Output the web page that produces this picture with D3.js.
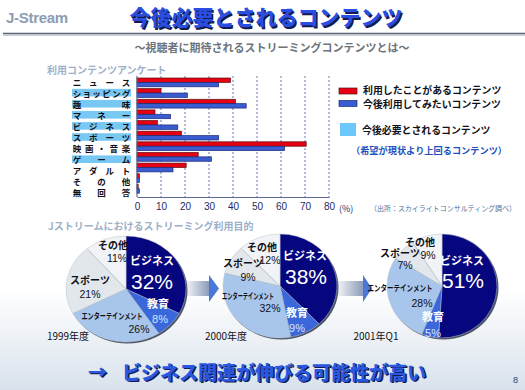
<!DOCTYPE html>
<html>
<head>
<meta charset="utf-8">
<script src="https://cdn.jsdelivr.net/npm/d3@7"></script>
<style>
  body { margin: 0; background: #fff; }
  svg { display: block; }
  text { font-family: "Noto Sans CJK JP", "Liberation Sans", sans-serif; }
</style>
</head>
<body>
<div id="chart"></div>
<script>
// survey bars
var categories = ["ニュース", "ショッピング", "趣味", "マネー", "ビジネス", "スポーツ", "映画・音楽", "ゲーム", "アダルト", "その他", "無回答"];
var highlighted = ["ショッピング", "趣味", "マネー", "ビジネス", "スポーツ", "ゲーム"];
var usedValues = [39, 10, 41, 7.5, 8.5, 18.5, 70.5, 25.5, 20.5, 1, 0.5];
var wantValues = [34, 21, 45.5, 14, 17, 34, 61.5, 31, 15, 1, 1];
var xTicks = [0, 10, 20, 30, 40, 50, 60, 70, 80];

// pies
var pieCategories = ["ビジネス", "教育", "エンターテインメント", "スポーツ", "その他"];
var pieYears = ["1999年度", "2000年度", "2001年Q1"];
var pie1999 = [32, 8, 26, 21, 11];
var pie2000 = [38, 9, 32, 9, 12];
var pie2001 = [51, 5, 28, 7, 9];

var width = 525, height = 390;

var svg = d3.select("#chart").append("svg")
    .attr("width", width)
    .attr("height", height);

var defs = svg.append("defs");
var bg = defs.append("linearGradient").attr("id", "bg")
    .attr("x1", 0).attr("y1", 0).attr("x2", 0).attr("y2", 1);
bg.append("stop").attr("offset", "0%").attr("stop-color", "#ffffff");
bg.append("stop").attr("offset", "100%").attr("stop-color", "#d9e2ec");

var arrowGrad = defs.append("linearGradient").attr("id", "arrowGrad")
    .attr("x1", 0).attr("y1", 0).attr("x2", 1).attr("y2", 0);
arrowGrad.append("stop").attr("offset", "0%").attr("stop-color", "#f4f6f9");
arrowGrad.append("stop").attr("offset", "100%").attr("stop-color", "#8c9cb8");

// background
svg.append("rect").attr("width", width).attr("height", height).attr("fill", "#fff");
svg.append("rect").attr("x", 0).attr("y", 290).attr("width", width).attr("height", 100)
    .attr("fill", "url(#bg)");

// header
svg.append("text")
    .attr("x", 6).attr("y", 17)
    .attr("dominant-baseline", "central")
    .style("font-family", "'Liberation Sans', Arial, sans-serif")
    .style("font-weight", "bold")
    .style("font-size", "15px")
    .style("letter-spacing", "-0.3px")
    .attr("fill", "#8c9cb4")
    .text("J-Stream");

function shadowText(x, y, size, txt, color, shadow, anchor) {
  svg.append("text")
      .attr("x", x + 1.5).attr("y", y + 1.5)
      .attr("text-anchor", anchor || "middle")
      .attr("dominant-baseline", "central")
      .style("font-weight", 900)
      .style("font-size", size + "px")
      .attr("fill", shadow)
      .text(txt);
  svg.append("text")
      .attr("x", x).attr("y", y)
      .attr("text-anchor", anchor || "middle")
      .attr("dominant-baseline", "central")
      .style("font-weight", 900)
      .style("font-size", size + "px")
      .attr("fill", color)
      .text(txt);
}

shadowText(266, 16, 21, "今後必要とされるコンテンツ", "#2a4ee0", "#121a50");

svg.append("line").attr("x1", 3).attr("x2", width).attr("y1", 33.5).attr("y2", 33.5)
    .attr("stroke", "#5a6272").attr("stroke-width", 1.6);
svg.append("line").attr("x1", 3).attr("x2", width).attr("y1", 35.2).attr("y2", 35.2)
    .attr("stroke", "#b4bcc8").attr("stroke-width", 1.2);

svg.append("text")
    .attr("x", 272).attr("y", 47)
    .attr("text-anchor", "middle")
    .attr("dominant-baseline", "central")
    .style("font-weight", "bold")
    .style("font-size", "11px")
    .attr("fill", "#6c747e")
    .text("～視聴者に期待されるストリーミングコンテンツとは～");

svg.append("text")
    .attr("x", 47).attr("y", 69)
    .attr("dominant-baseline", "central")
    .style("font-weight", "bold")
    .style("font-size", "10px")
    .attr("fill", "#9eb0c8")
    .text("利用コンテンツアンケート");

// bar chart
var x = d3.scaleLinear().domain([0, 80]).range([137, 329]);
var y = d3.scaleBand().domain(categories).range([77, 194]);
var sub = d3.scaleBand().domain(["used", "want"]).range([1, 9.8]);
var yLabel = d3.scaleBand().domain(categories).range([76, 198]);

var bars = svg.append("g");

bars.selectAll(".grid")
    .data(xTicks.slice(1))
    .enter().append("line")
    .attr("x1", function(d) { return x(d); })
    .attr("x2", function(d) { return x(d); })
    .attr("y1", 76).attr("y2", 197)
    .attr("stroke", "#3c5aa0")
    .attr("stroke-width", 0.8)
    .attr("stroke-dasharray", "2,2");

// label highlight
bars.selectAll(".hl")
    .data(highlighted)
    .enter().append("rect")
    .attr("x", 72).attr("width", 59)
    .attr("y", function(d) { return yLabel(d) + yLabel.bandwidth() / 2 - 3.8; })
    .attr("height", 7.6)
    .attr("fill", "#78c8f4");

// spread the characters across the label column
categories.forEach(function(c) {
  var chars = c.split("");
  var pos = d3.scalePoint().domain(d3.range(chars.length)).range([77, 126]);
  bars.selectAll(null)
      .data(chars)
      .enter().append("text")
      .attr("x", function(d, i) { return pos(i); })
      .attr("y", yLabel(c) + yLabel.bandwidth() / 2)
      .attr("text-anchor", "middle")
      .attr("dominant-baseline", "central")
      .style("font-weight", "bold")
      .style("font-size", "8.5px")
      .attr("fill", "#101018")
      .text(function(d) { return d; });
});

bars.selectAll(".used")
    .data(usedValues)
    .enter().append("rect")
    .attr("x", x(0))
    .attr("y", function(d, i) { return y(categories[i]) + sub("used"); })
    .attr("width", function(d) { return x(d) - x(0); })
    .attr("height", sub.bandwidth())
    .attr("fill", "#e60012")
    .attr("stroke", "#5a1010")
    .attr("stroke-width", 0.7);

bars.selectAll(".want")
    .data(wantValues)
    .enter().append("rect")
    .attr("x", x(0))
    .attr("y", function(d, i) { return y(categories[i]) + sub("want"); })
    .attr("width", function(d) { return x(d) - x(0); })
    .attr("height", sub.bandwidth())
    .attr("fill", "#3a5cd0")
    .attr("stroke", "#1a2a78")
    .attr("stroke-width", 0.7);

var xAxis = bars.append("g")
    .attr("transform", "translate(0,197)")
    .call(d3.axisBottom(x).tickValues(xTicks).tickSize(0).tickPadding(6));
xAxis.select(".domain").attr("stroke", "#5a6890").attr("stroke-width", 1.2);
xAxis.selectAll("text")
    .style("font-family", "'Liberation Sans', Arial, sans-serif")
    .style("font-size", "10px")
    .attr("fill", "#1c2c60");

bars.append("line")
    .attr("x1", x(0)).attr("x2", x(0)).attr("y1", 76).attr("y2", 197)
    .attr("stroke", "#5a6890").attr("stroke-width", 1.2);

svg.append("text")
    .attr("x", 339).attr("y", 208)
    .attr("dominant-baseline", "central")
    .style("font-size", "9px")
    .attr("fill", "#1c2c60")
    .text("(%)");

svg.append("text")
    .attr("x", 370).attr("y", 207)
    .attr("dominant-baseline", "central")
    .attr("textLength", 146)
    .attr("lengthAdjust", "spacingAndGlyphs")
    .style("font-size", "7.4px")
    .attr("fill", "#5070a0")
    .text("（出所：スカイライトコンサルティング調べ）");

// legend
var legend = svg.append("g");
legend.append("rect").attr("x", 339).attr("y", 88).attr("width", 18).attr("height", 6)
    .attr("fill", "#e60012").attr("stroke", "#5a1010").attr("stroke-width", 0.7);
legend.append("rect").attr("x", 339).attr("y", 100.5).attr("width", 18).attr("height", 6)
    .attr("fill", "#3a5cd0").attr("stroke", "#1a2a78").attr("stroke-width", 0.7);
legend.append("rect").attr("x", 340).attr("y", 123).attr("width", 16).attr("height", 13)
    .attr("fill", "#6cc8fa");

var legendTexts = [
  {t: "利用したことがあるコンテンツ", x: 363, y: 90},
  {t: "今後利用してみたいコンテンツ", x: 363, y: 104},
  {t: "今後必要とされるコンテンツ", x: 362, y: 130}
];
legend.selectAll(".lt")
    .data(legendTexts)
    .enter().append("text")
    .attr("x", function(d) { return d.x; })
    .attr("y", function(d) { return d.y; })
    .attr("dominant-baseline", "central")
    .style("font-weight", "bold")
    .style("font-size", "9.9px")
    .attr("fill", "#101018")
    .text(function(d) { return d.t; });

legend.append("text")
    .attr("x", 351).attr("y", 150)
    .attr("dominant-baseline", "central")
    .style("font-weight", "bold")
    .style("font-size", "9.2px")
    .attr("fill", "#1c50c0")
    .text("（希望が現状より上回るコンテンツ）");

// pies section
svg.append("text")
    .attr("x", 48).attr("y", 225)
    .attr("dominant-baseline", "central")
    .style("font-weight", "bold")
    .style("font-size", "10px")
    .attr("fill", "#9eb0c8")
    .text("Jストリームにおけるストリーミング利用目的");

// arrows between pies
[[186, 209, 219], [337, 363, 372]].forEach(function(a) {
  svg.append("rect").attr("x", a[0]).attr("y", 281).attr("width", a[1] - a[0]).attr("height", 15)
      .attr("fill", "url(#arrowGrad)");
  svg.append("path")
      .attr("d", "M" + a[1] + ",275L" + a[2] + ",288.5L" + a[1] + ",302Z")
      .attr("fill", "#4a78d8");
});

var pieColors = d3.scaleOrdinal()
    .domain(pieCategories)
    .range(["#06067e", "#3a68da", "#a8c6ec", "#e2e7ec", "#f1f3f6"]);

// label offsets from each pie centre: [nameDx, nameDy, pctDx, pctDy]
var pieSpecs = [
  {values: pie1999, cx: 126, cy: 289, rx: 60, ry: 53, year: pieYears[0], yearX: 68, entW: 61,
   labels: [[26, -29, 26, -8], [32, 14, 34, 30], [-14, 26, 13, 40], [-36, -10, -36, 5], [-13, -45, -9, -31]]},
  {values: pie2000, cx: 280, cy: 286, rx: 57, ry: 52, year: pieYears[1], yearX: 226, entW: 52,
   labels: [[25, -31, 26, -10], [17, 26, 17, 42], [-32, 9, -10, 22], [-37, -24, -32, -9], [-18, -40, -10, -26]]},
  {values: pie2001, cx: 442, cy: 286, rx: 55, ry: 52, year: pieYears[2], yearX: 376, entW: 65,
   labels: [[20, -26, 21, -6], [-9, 30, -9, 47], [-42, 1, -20, 17], [-42, -34, -37, -21], [-22, -45, -14, -31]]}
];

var pie = d3.pie().sort(null).value(function(d) { return d; });

pieSpecs.forEach(function(p) {
  var arcs = pie(p.values);
  var sy = p.ry / p.rx;
  var arc = d3.arc().innerRadius(0).outerRadius(p.rx);

  svg.append("ellipse")
      .attr("cx", p.cx + 1.5).attr("cy", p.cy + 1.5)
      .attr("rx", p.rx).attr("ry", p.ry)
      .attr("fill", "#4c5464");

  var g = svg.append("g")
      .attr("transform", "translate(" + p.cx + "," + p.cy + ") scale(1," + sy + ")");
  g.selectAll("path")
      .data(arcs)
      .enter().append("path")
      .attr("d", arc)
      .attr("fill", function(d, i) { return pieColors(pieCategories[i]); })
      .attr("stroke", "#b8c2cc")
      .attr("stroke-width", 0.5)
      .attr("vector-effect", "non-scaling-stroke");

  arcs.forEach(function(d, i) {
    var L = p.labels[i];
    var white = i < 2;
    var name = svg.append("text")
        .attr("x", p.cx + L[0]).attr("y", p.cy + L[1])
        .attr("text-anchor", "middle")
        .attr("dominant-baseline", "central")
        .style("font-weight", "bold")
        .style("font-size", i === 1 ? "11px" : (i === 0 ? "11px" : "10px"))
        .attr("fill", white ? "#ffffff" : "#101018")
        .text(pieCategories[i]);
    if (i === 2) {
      name.style("font-size", "8.5px")
          .attr("textLength", p.entW)
          .attr("lengthAdjust", "spacingAndGlyphs");
    }
    svg.append("text")
        .attr("x", p.cx + L[2]).attr("y", p.cy + L[3])
        .attr("text-anchor", "middle")
        .attr("dominant-baseline", "central")
        .style("font-family", "'Liberation Sans', Arial, sans-serif")
        .style("font-size", i === 0 ? "21px" : (i === 1 ? "11px" : "10.5px"))
        .attr("fill", i === 0 ? "#ffffff" : (i === 1 ? "#d8e4ff" : "#101018"))
        .text(p.values[i] + "%");
  });

  svg.append("text")
      .attr("x", p.yearX).attr("y", 335)
      .attr("text-anchor", "middle")
      .attr("dominant-baseline", "central")
      .style("font-size", "10px")
      .attr("fill", "#101018")
      .text(p.year);
});

// conclusion
shadowText(88, 371, 19, "→", "#2a58e0", "#121a50", "start");
shadowText(122, 371, 19, "ビジネス関連が伸びる可能性が高い", "#2a58e0", "#121a50", "start");

svg.append("text")
    .attr("x", 513).attr("y", 380)
    .attr("dominant-baseline", "central")
    .style("font-family", "'Liberation Sans', Arial, sans-serif")
    .style("font-size", "9px")
    .attr("fill", "#2c3c70")
    .text("8");
</script>
</body>
</html>
